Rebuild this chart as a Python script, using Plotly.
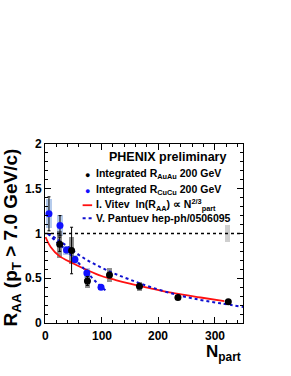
import plotly.graph_objects as go

# AuAu (black) integrated RAA
auau_npart = [26, 47, 75, 114, 167, 235, 324]
auau_raa = [0.88, 0.81, 0.47, 0.535, 0.41, 0.285, 0.238]
auau_stat = [0.08, 0.26, 0.05, 0.03, 0.02, 0.012, 0.012]
auau_sys = [0.15, 0.15, 0.08, 0.075, 0.05, 0.03, 0.025]

# CuCu (blue) integrated RAA
cucu_npart = [7, 26.5, 38, 53, 74, 99]
cucu_raa = [1.22, 1.09, 0.815, 0.71, 0.56, 0.40]
cucu_stat = [0.19, 0.11, 0.03, 0.03, 0.03, 0.02]
cucu_sys = [0.16, 0.12, 0.05, 0.05, 0.06, 0.03]

# global normalisation box
norm_npart = [322]
norm_val = [1.0]
norm_err = [0.1]

# I. Vitev curve
vitev_npart = [1, 10, 25, 50, 75, 100, 125, 150, 185, 230, 275, 317]
vitev_raa = [0.96, 0.85, 0.75, 0.665, 0.59, 0.525, 0.48, 0.44, 0.39, 0.33, 0.285, 0.245]

# V. Pantuev curves
pant_au_npart = [5, 20, 41, 65, 90, 120, 150, 185, 230, 273, 310, 350]
pant_au_raa = [1.0, 0.94, 0.85, 0.74, 0.65, 0.56, 0.485, 0.405, 0.32, 0.26, 0.22, 0.18]
pant_cu_npart = [5, 20, 38, 55, 74, 90, 108]
pant_cu_raa = [1.0, 0.91, 0.81, 0.70, 0.57, 0.46, 0.36]

ref_x = [0, 350]
ref_y = [1, 1]

x_ticks = [0, 100, 200, 300]
x_ticklabels = ["0", "100", "200", "300"]
y_ticks = [0, 0.5, 1, 1.5, 2]
y_ticklabels = ["0", "0.5", "1", "1.5", "2"]

FONT = "Liberation Sans, Arial, Helvetica, sans-serif"

fig = go.Figure()

# systematic boxes
fig.add_trace(go.Bar(x=norm_npart, y=[2 * e for e in norm_err],
                     base=[v - e for v, e in zip(norm_val, norm_err)],
                     width=9, marker=dict(color="#cfcfcf", line=dict(width=0)),
                     showlegend=False, hoverinfo="skip"))
fig.add_trace(go.Bar(x=cucu_npart, y=[2 * e for e in cucu_sys],
                     base=[v - e for v, e in zip(cucu_raa, cucu_sys)],
                     width=11, marker=dict(color="rgba(120,160,220,0.55)", line=dict(width=0)),
                     showlegend=False, hoverinfo="skip"))
fig.add_trace(go.Bar(x=auau_npart, y=[2 * e for e in auau_sys],
                     base=[v - e for v, e in zip(auau_raa, auau_sys)],
                     width=9, marker=dict(color="rgba(70,70,70,0.6)", line=dict(width=0)),
                     showlegend=False, hoverinfo="skip"))

# reference line
fig.add_trace(go.Scatter(x=ref_x, y=ref_y, mode="lines",
                         line=dict(color="black", width=1.3, dash="dot"),
                         showlegend=False, hoverinfo="skip"))

# theory curves
fig.add_trace(go.Scatter(x=vitev_npart, y=vitev_raa, mode="lines", line_shape="spline",
                         line=dict(color="#ff1010", width=1.8), showlegend=False))
fig.add_trace(go.Scatter(x=pant_au_npart, y=pant_au_raa, mode="lines", line_shape="spline",
                         line=dict(color="#1010d0", width=2, dash="dot"), showlegend=False))
fig.add_trace(go.Scatter(x=pant_cu_npart, y=pant_cu_raa, mode="lines", line_shape="spline",
                         line=dict(color="#1010d0", width=2, dash="dot"), showlegend=False))

# data points
fig.add_trace(go.Scatter(x=cucu_npart, y=cucu_raa, mode="markers",
                         marker=dict(color="#1010ff", size=7),
                         error_y=dict(type="data", array=cucu_stat, color="black", thickness=1, width=1.5),
                         showlegend=False))
fig.add_trace(go.Scatter(x=auau_npart, y=auau_raa, mode="markers",
                         marker=dict(color="black", size=7),
                         error_y=dict(type="data", array=auau_stat, color="black", thickness=1, width=1.5),
                         showlegend=False))

axis_common = dict(showline=True, linecolor="black", linewidth=1, mirror="allticks",
                   ticks="inside", ticklen=6, tickcolor="black", tickwidth=1,
                   showgrid=False, zeroline=False,
                   tickfont=dict(family=FONT, size=12, color="black", weight="bold"))

fig.update_xaxes(range=[0, 350], tickvals=x_ticks, showticklabels=False,
                 minor=dict(ticks="inside", ticklen=3, dtick=20, tickcolor="black", showgrid=False),
                 **axis_common)
fig.update_yaxes(range=[0, 2], tickvals=y_ticks, ticktext=y_ticklabels,
                 minor=dict(ticks="inside", ticklen=3, dtick=0.1, tickcolor="black", showgrid=False),
                 **axis_common)

ann = []
# x tick labels placed at the data positions
for xv, xl in zip(x_ticks, x_ticklabels):
    ann.append(dict(text=xl, xref="x", yref="paper", x=xv, y=-0.072, xanchor="center",
                    yanchor="middle", showarrow=False,
                    font=dict(family=FONT, size=12, color="black", weight="bold")))
ann.append(dict(text="R<sub>AA</sub> (p<sub>T</sub> > 7.0 GeV/c)", textangle=-90,
                xref="paper", yref="paper", x=-0.165, y=0.48, xanchor="center", yanchor="middle",
                showarrow=False, font=dict(family=FONT, size=19, color="black", weight="bold")))
ann.append(dict(text="N<sub>part</sub>", xref="paper", yref="paper", x=1.0, y=-0.165,
                xanchor="right", yanchor="middle", showarrow=False,
                font=dict(family=FONT, size=17, color="black", weight="bold")))
ann.append(dict(text="PHENIX preliminary", xref="paper", yref="paper", x=0.62, y=0.927,
                xanchor="center", yanchor="middle", showarrow=False,
                font=dict(family=FONT, size=12.5, color="black", weight="bold")))
rows = [
    ("Integrated R<sub>AuAu</sub> 200 GeV", 0.831),
    ("Integrated R<sub>CuCu</sub> 200 GeV", 0.743),
    ("I. Vitev  ln(R<sub>AA</sub>) ∝ N<sup>2/3</sup><sub>part</sub>", 0.658),
    ("V. Pantuev hep-ph/0506095", 0.585),
]
for t, yy in rows:
    ann.append(dict(text=t, xref="paper", yref="paper", x=0.249, y=yy, xanchor="left",
                    yanchor="middle", showarrow=False,
                    font=dict(family=FONT, size=10.5, color="black", weight="bold")))
# legend symbols
ann.append(dict(text="●", xref="paper", yref="paper", x=0.214, y=0.831, xanchor="center",
                yanchor="middle", showarrow=False, font=dict(size=9, color="black")))
ann.append(dict(text="●", xref="paper", yref="paper", x=0.214, y=0.743, xanchor="center",
                yanchor="middle", showarrow=False, font=dict(size=9, color="#1010ff")))

shapes = [
    dict(type="line", xref="paper", yref="paper", x0=0.19, x1=0.238, y0=0.658, y1=0.658,
         line=dict(color="#ff1010", width=1.8)),
    dict(type="line", xref="paper", yref="paper", x0=0.19, x1=0.238, y0=0.585, y1=0.585,
         line=dict(color="#1010d0", width=2, dash="dot")),
]

fig.update_layout(width=291, height=376, margin=dict(l=45, r=48, t=144, b=53),
                  paper_bgcolor="white", plot_bgcolor="white", barmode="overlay",
                  annotations=ann, shapes=shapes, showlegend=False, bargap=0)

# remove the default 8px page margin so the figure sits at the window's corner
fig.write_html("out.html", config={"displayModeBar": False},
               post_script="document.body.style.margin='0px';")
